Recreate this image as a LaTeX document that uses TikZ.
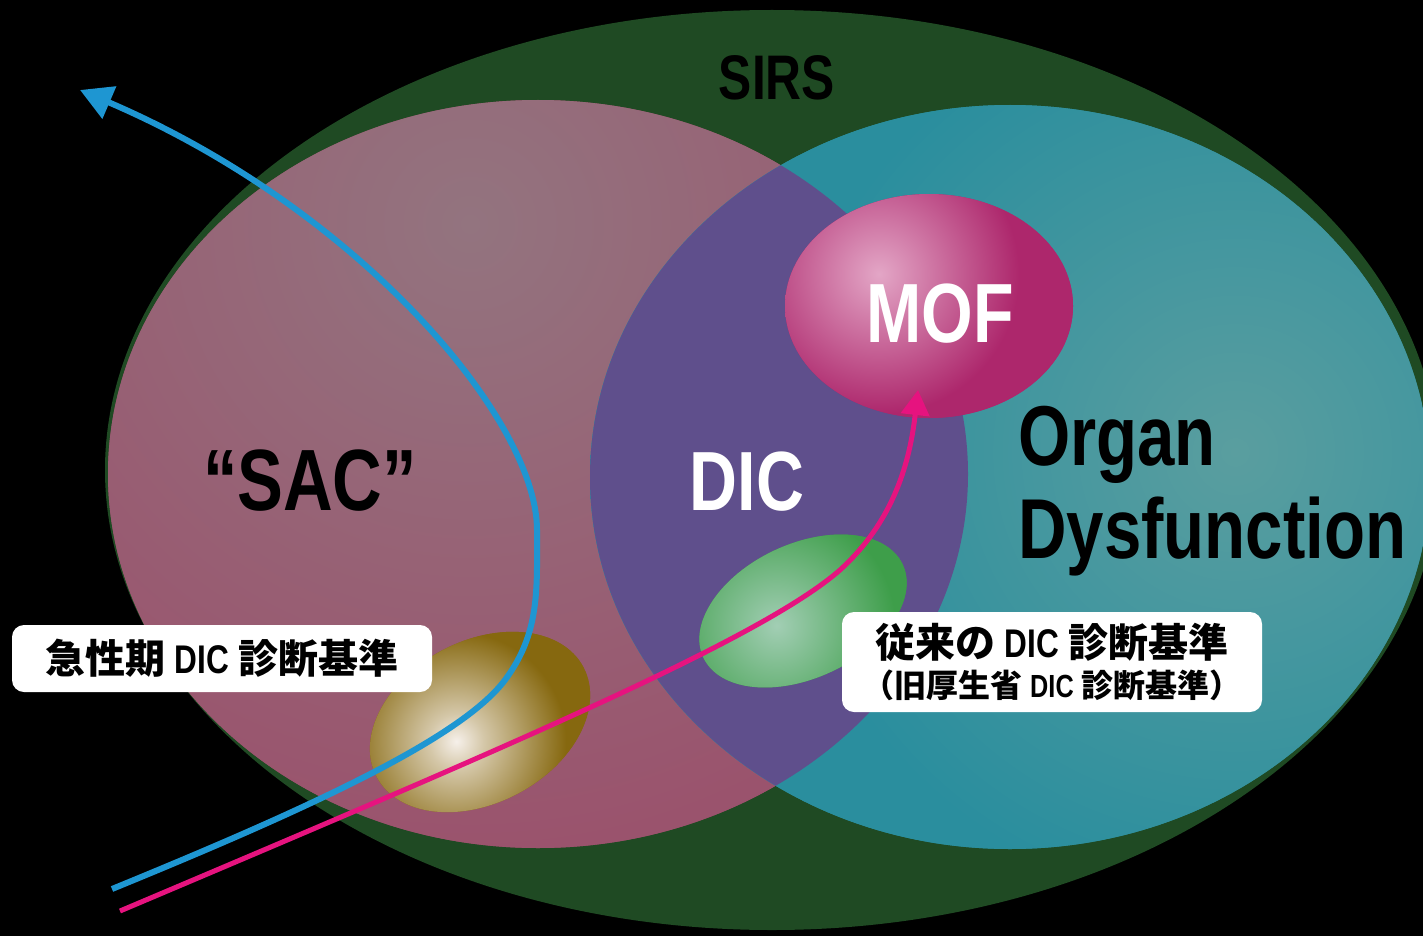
\documentclass[tikz,border=0pt]{standalone}
\usepackage{fontspec}
\usetikzlibrary{shapes.geometric,arrows.meta}
\newfontfamily\latb[FakeStretch=0.79]{Liberation Sans}
\newfontfamily\jp{Noto Sans CJK JP}
\definecolor{sirsgreen}{HTML}{1F4A23}
\definecolor{sacpink}{HTML}{9C4A68}
\definecolor{sachi}{HTML}{93747F}
\definecolor{odteal}{HTML}{2A8E9E}
\definecolor{odhi}{HTML}{5A9E9F}
\definecolor{dicpurple}{HTML}{5F4F8C}
\definecolor{mofmag}{HTML}{AD276C}
\definecolor{mofhi}{HTML}{E3A6C6}
\definecolor{grnell}{HTML}{3E9E4A}
\definecolor{grnhi}{HTML}{A2CEB4}
\definecolor{brnell}{HTML}{86680F}
\definecolor{brnhi}{HTML}{F6F0EA}
\definecolor{arrblue}{HTML}{1E96D2}
\definecolor{arrmag}{HTML}{E6137F}
\pgfdeclareradialshading{sacsh}{\pgfpoint{0bp}{0bp}}{color(0bp)=(sachi); color(25bp)=(sacpink); color(50bp)=(sacpink)}
\pgfdeclareradialshading{odsh}{\pgfpoint{0bp}{0bp}}{color(0bp)=(odhi); color(12bp)=(odteal); color(50bp)=(odteal)}
\pgfdeclareradialshading{mofsh}{\pgfpoint{0bp}{0bp}}{color(0bp)=(mofhi); color(10bp)=(mofmag); color(50bp)=(mofmag)}
\pgfdeclareradialshading{grnsh}{\pgfpoint{0bp}{0bp}}{color(0bp)=(grnhi); color(10bp)=(grnell); color(50bp)=(grnell)}
\pgfdeclareradialshading{brnsh}{\pgfpoint{0bp}{0bp}}{color(0bp)=(brnhi); color(2bp)=(brnhi!70!brnell); color(8bp)=(brnell); color(50bp)=(brnell)}
\begin{document}
\begin{tikzpicture}[x=1pt,y=-1pt,
  blob/.style={ellipse, inner sep=0pt, outer sep=0pt, draw=none},
  bigtext/.style={font={\latb\bfseries\fontsize{84}{90}\selectfont}, inner sep=0pt},
  jlabel/.style={fill=white, rounded corners=12pt, inner sep=0pt, align=center,
    font={\jp\bfseries\fontsize{40}{44}\selectfont}, text=black},
  bluearr/.style={draw=arrblue, line width=6pt, -{Triangle[length=32pt,width=34pt]}},
  magarr/.style={draw=arrmag, line width=5pt, -{Triangle[length=25pt,width=28pt]}},
]
\fill[black] (0,0) rectangle (1423,936);
\useasboundingbox (0,0) rectangle (1423,936);
\clip (0,0) rectangle (1423,936);

% SIRS
\node[blob, fill=sirsgreen, minimum width=1334pt, minimum height=920pt] (sirs) at (772,470) {};
% SAC
\node[blob, fill=sacpink, minimum width=860pt, minimum height=748pt,
  path picture={\shade[shading=sacsh]
    ([shift={(-68pt,250pt)}]path picture bounding box.center) circle (800pt);}] (sac) at (538,474) {};
% Organ dysfunction
\node[blob, fill=odteal, minimum width=840pt, minimum height=744pt,
  path picture={\shade[shading=odsh]
    ([shift={(225pt,25pt)}]path picture bounding box.center) circle (950pt);}] (od) at (1010,477) {};
% DIC overlap
\begin{scope}
  \clip (538,474) ellipse [x radius=430pt, y radius=374pt];
  \fill[dicpurple] (1010,477) ellipse [x radius=420pt, y radius=372pt];
\end{scope}
% MOF
\node[blob, fill=mofmag, minimum width=288pt, minimum height=224pt,
  path picture={\shade[shading=mofsh]
    ([shift={(-50pt,32pt)}]path picture bounding box.center) circle (350pt);}] (mof) at (929,306) {};
% green ellipse (conventional criteria)
\node[blob, fill=grnell, minimum width=220pt, minimum height=134pt, rotate=25,
  path picture={\shade[shading=grnsh]
    ([shift={(-30pt,-2pt)}]path picture bounding box.center) circle (260pt);}] (grn) at (803,611) {};
% brown ellipse (acute criteria)
\node[blob, fill=brnell, minimum width=234pt, minimum height=162pt, rotate=28,
  path picture={\shade[shading=brnsh]
    ([shift={(-30pt,-6pt)}]path picture bounding box.center) circle (300pt);}] (brn) at (480,722) {};

% texts
\node[bigtext, anchor=base, font={\latb\bfseries\fontsize{63}{70}\selectfont}] (sirslbl) at (777,100) {SIRS};
\node[bigtext, anchor=base, font={\latb\bfseries\fontsize{87}{90}\selectfont}] (saclbl) at (310,510) {“SAC”};
\node[bigtext, anchor=base, text=white] (diclbl) at (747,510) {DIC};
\node[bigtext, anchor=base, text=white] (moflbl) at (940,342) {MOF};
\node[bigtext, anchor=base west, font={\latb\bfseries\fontsize{85}{90}\selectfont}] (organ) at (1018,465) {Organ};
\node[bigtext, anchor=base west, font={\latb\bfseries\fontsize{85}{90}\selectfont}] (dysf) at (1018,558) {Dysfunction};

% arrows
\coordinate (bstart) at (112,889);
\coordinate (btip) at (80,90);
\coordinate (mstart) at (120,911);
\coordinate (mtip) at (918,390);
\draw[bluearr] (bstart) .. controls (300,812) and (460,740) .. (505,680)
  .. controls (540,633) and (537,590) .. (537,530)
  .. controls (537,420) and (360,210) .. (btip);
\draw[magarr] (mstart) .. controls (500,750) and (760,640) .. (840,570)
  .. controls (895,520) and (910,460) .. (mtip);

% labels
\node[jlabel, minimum width=420pt, minimum height=67pt] (acute) at (222,658.5)
  {急性期 {\latb DIC} 診断基準};
\node[jlabel, minimum width=420pt, minimum height=100pt] (conv) at (1052,662)
  {従来の {\latb DIC} 診断基準\\[-4pt]{\fontsize{32}{34}\selectfont （旧厚生省 {\latb DIC} 診断基準）}};
\end{tikzpicture}
\end{document}
